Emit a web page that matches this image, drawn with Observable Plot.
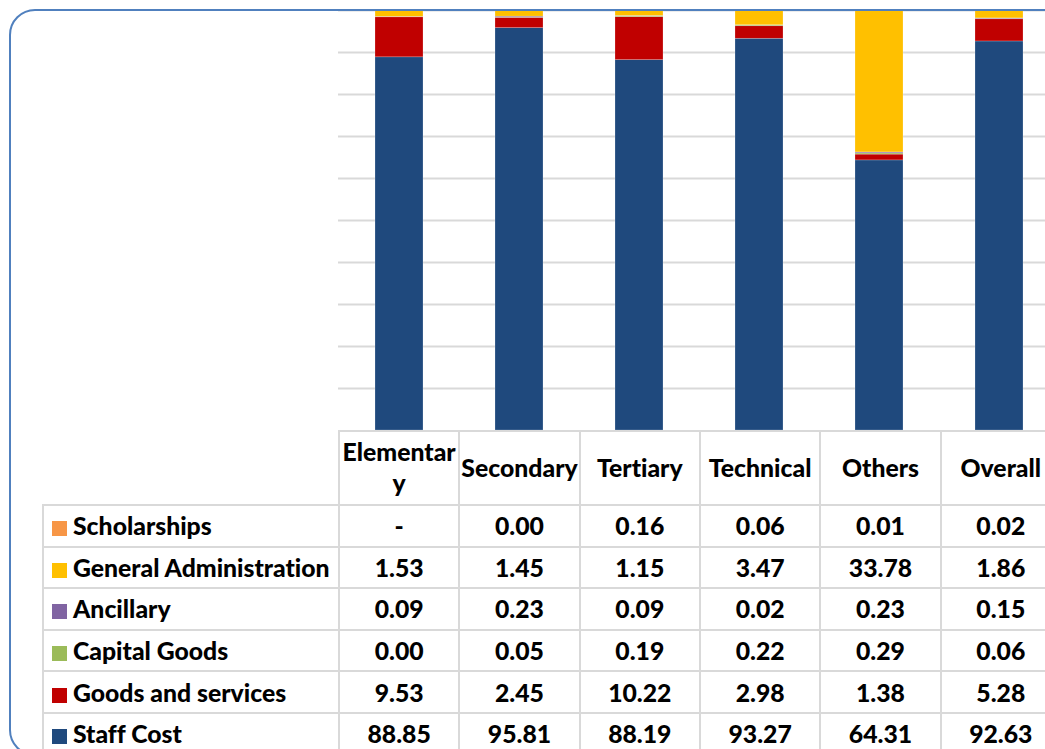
<!DOCTYPE html>
<html>
<head>
<meta charset="utf-8">
<script src="https://cdn.jsdelivr.net/npm/d3@7"></script>
<script src="https://cdn.jsdelivr.net/npm/@observablehq/plot@0.6"></script>
<style>
  html, body { margin: 0; padding: 0; background: #fff; overflow: hidden; width: 1045px; height: 749px; }
  #wrap { position: relative; width: 1045px; height: 749px; overflow: hidden; }
  #frame { position: absolute; left: 9px; top: 8.5px; width: 1060px; height: 747px; z-index: 2; pointer-events: none;
           border: 2.5px solid #5080BE; border-radius: 26px; box-sizing: border-box; }
  #chart { position: absolute; left: 0; top: 0; z-index: 1; }
  #tbl { position: absolute; left: 42px; top: 430px; border-collapse: collapse; table-layout: fixed; z-index: 1;
         font-family: Lato, "Open Sans", sans-serif; font-weight: 900; color: #000;
         font-variant-ligatures: none; font-feature-settings: "liga" 0; }
  #tbl td { border: 2px solid #d9d9d9; text-align: center; vertical-align: middle; padding: 0; white-space: pre-line; }
  #tbl td.lab { text-align: left; white-space: nowrap; padding-left: 8px; }
  #tbl td.corner { border-top: none; border-left: none; }
  .sw { display: inline-block; width: 15px; height: 15px; margin-right: 6px; vertical-align: -1px; }
</style>
</head>
<body>
<div id="wrap">
  <div id="frame"></div>
  <div id="chart"></div>
  <table id="tbl"></table>
</div>
<script>
// ---- data ----
const categories = ["Elementary", "Secondary", "Tertiary", "Technical", "Others", "Overall"];
const headerLabels = ["Elementar\ny", "Secondary", "Tertiary", "Technical", "Others", "Overall"];
const series = ["Staff Cost", "Goods and services", "Capital Goods", "Ancillary", "General Administration", "Scholarships"];
const seriesColors = ["#1F497D", "#C00000", "#9BBB59", "#8064A2", "#FFC000", "#F79646"];
const staffCost = [88.85, 95.81, 88.19, 93.27, 64.31, 92.63];
const goodsServices = [9.53, 2.45, 10.22, 2.98, 1.38, 5.28];
const capitalGoods = [0.00, 0.05, 0.19, 0.22, 0.29, 0.06];
const ancillary = [0.09, 0.23, 0.09, 0.02, 0.23, 0.15];
const generalAdmin = [1.53, 1.45, 1.15, 3.47, 33.78, 1.86];
const scholarships = [null, 0.00, 0.16, 0.06, 0.01, 0.02];
const gridValues = [10, 20, 30, 40, 50, 60, 70, 80, 90, 100];

const seriesValues = [staffCost, goodsServices, capitalGoods, ancillary, generalAdmin, scholarships];
const data = [];
series.forEach((s, i) => categories.forEach((c, j) => {
  data.push({ series: s, category: c, value: seriesValues[i][j] ?? 0 });
}));

const W = 1045, plotLeft = 338, colW = 120.33;

const chart = Plot.plot({
  width: W, height: 430,
  marginTop: 10, marginBottom: 0, marginLeft: plotLeft, marginRight: 0,
  style: { background: "transparent", overflow: "visible" },
  x: { domain: categories, range: [plotLeft, plotLeft + colW * categories.length], paddingInner: 0.6, paddingOuter: 0.3, axis: null },
  y: { domain: [0, 100], axis: null },
  color: { domain: series, range: seriesColors },
  marks: [
    Plot.ruleY(gridValues, { stroke: "#d9d9d9", strokeWidth: 2 }),
    Plot.barY(data, { x: "category", y: "value", fill: "series", order: series, stroke: "#ffffff", strokeOpacity: 0.35, strokeWidth: 0.6 })
  ]
});
document.getElementById("chart").appendChild(chart);

// ---- table ----
const tbl = document.getElementById("tbl");
const fam = getComputedStyle(tbl).fontFamily;
const ctx = document.createElement("canvas").getContext("2d");
ctx.font = `900 100px ${fam}`;
const fs = 100 * 258 / ctx.measureText("General Administration").width;
tbl.style.fontSize = fs + "px";
const colg = document.createElement("colgroup");
[296, ...categories.map(() => colW)].forEach(w => { const c = document.createElement("col"); c.style.width = w + "px"; colg.appendChild(c); });
tbl.appendChild(colg);
tbl.style.width = (296 + colW * categories.length) + "px";

const hr = document.createElement("tr");
hr.style.height = "74px";
const corner = document.createElement("td"); corner.className = "corner"; hr.appendChild(corner);
headerLabels.forEach(h => { const td = document.createElement("td"); td.textContent = h; td.style.lineHeight = "1.25"; hr.appendChild(td); });
tbl.appendChild(hr);

const rowOrder = [5, 4, 3, 2, 1, 0];
rowOrder.forEach(i => {
  const tr = document.createElement("tr");
  tr.style.height = "41.6px";
  const lab = document.createElement("td"); lab.className = "lab";
  const sw = document.createElement("span"); sw.className = "sw"; sw.style.background = seriesColors[i];
  lab.appendChild(sw); lab.appendChild(document.createTextNode(series[i]));
  tr.appendChild(lab);
  seriesValues[i].forEach(v => {
    const td = document.createElement("td");
    td.textContent = v == null ? "-" : v.toFixed(2);
    tr.appendChild(td);
  });
  tbl.appendChild(tr);
});
</script>
</body>
</html>
